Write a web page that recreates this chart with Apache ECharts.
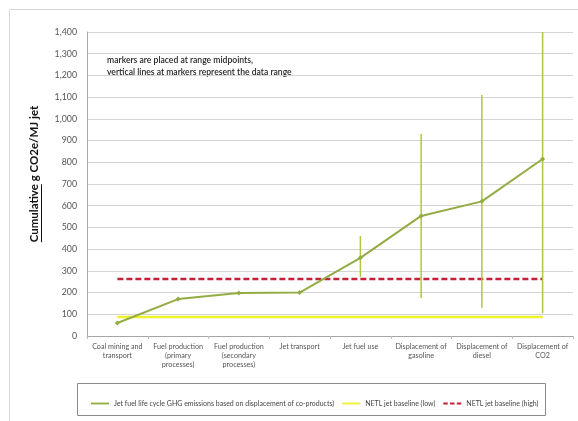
<!DOCTYPE html>
<html>
<head>
<meta charset="utf-8">
<script src="https://cdn.jsdelivr.net/npm/echarts@6/dist/echarts.min.js"></script>
<style>
  html, body { margin: 0; padding: 0; background: #fff; }
  #chart { width: 578px; height: 421px; }
</style>
</head>
<body>
<div id="chart"></div>
<script>
// Life-cycle stages along the x axis
const categories = [
  'Coal mining and\ntransport',
  'Fuel production\n(primary\nprocesses)',
  'Fuel production\n(secondary\nprocesses)',
  'Jet transport',
  'Jet fuel use',
  'Displacement of\ngasoline',
  'Displacement of\ndiesel',
  'Displacement of\nCO2'
];
// Cumulative emissions at range midpoints (g CO2e/MJ jet)
const midpoints = [60, 170, 198, 200, 360, 553, 620, 815];
// Data range for each stage [low, high]; null where no range is shown
const rangeLow  = [null, null, null, null, 272, 175, 130, 105];
const rangeHigh = [null, null, null, null, 460, 930, 1110, 1400];
// NETL jet baselines
const baselineLow  = [87, 87, 87, 87, 87, 87, 87, 87];
const baselineHigh = [263, 263, 263, 263, 263, 263, 263, 263];
// Y axis ticks
const yMin = 0, yMax = 1400, yStep = 100;

const seriesNames = [
  'Jet fuel life cycle GHG emissions based on displacement of co-products)',
  'NETL jet baseline (low)',
  'NETL jet baseline (high)'
];

const FONT = 'Lato, "Open Sans", sans-serif';
const green = '#93AC43';
const greenBar = '#AFC743';
const yellow = '#EEF22A';
const red = '#C4213B';

const chart = echarts.init(document.getElementById('chart'));

// width of a text string, used to size the underline under the axis title
function textWidth(str, font) {
  const c = document.createElement('canvas').getContext('2d');
  c.font = font;
  return c.measureText(str).width;
}
const titleFont = 'bold 11.5px ' + FONT;
const titleA = 'Cumulative';
const titleB = ' g CO2e/MJ jet';
const wA = textWidth(titleA, titleFont);
const wAll = textWidth(titleA + titleB, titleFont);

const rangeData = categories.map((c, i) => [i, rangeLow[i], rangeHigh[i]]).filter(d => d[1] != null);

// legend glyphs: solid bar and three dashes
const solidIcon = 'path://M0,0H20V2H0Z';
const dashIcon = 'path://M0,0H5V2H0Z M7.5,0H12.5V2H7.5Z M15,0H20V2H15Z';

chart.setOption({
  animation: false,
  grid: { left: 87, right: 5, top: 32, bottom: 85 },
  xAxis: {
    type: 'category',
    data: categories,
    boundaryGap: true,
    axisLine: { lineStyle: { color: '#a6a6a6' } },
    axisTick: { show: true, length: 3, lineStyle: { color: '#bdbdbd' } },
    axisLabel: {
      interval: 0, color: '#555', fontFamily: FONT, fontSize: 7.2, lineHeight: 9, margin: 6
    }
  },
  yAxis: {
    type: 'value',
    min: yMin, max: yMax, interval: yStep,
    axisLine: { show: true, lineStyle: { color: '#a6a6a6' } },
    axisTick: { show: false },
    splitLine: { lineStyle: { color: '#d4d4d4', width: 1 } },
    axisLabel: {
      color: '#555', fontFamily: FONT, fontSize: 8.8, margin: 10,
      formatter: v => v.toLocaleString('en-US')
    }
  },
  series: [
    {
      name: seriesNames[1],
      type: 'line',
      data: baselineLow,
      symbol: 'none',
      lineStyle: { color: yellow, width: 2.5 },
      itemStyle: { color: yellow },
      z: 2
    },
    {
      name: seriesNames[2],
      type: 'line',
      data: baselineHigh,
      symbol: 'none',
      lineStyle: { color: red, width: 2.5, type: [6, 3] },
      itemStyle: { color: red },
      z: 2
    },
    {
      name: 'range',
      type: 'custom',
      data: rangeData,
      z: 3,
      renderItem: (params, api) => {
        const p1 = api.coord([api.value(0), api.value(1)]);
        const p2 = api.coord([api.value(0), api.value(2)]);
        return {
          type: 'line',
          shape: { x1: p1[0], y1: p1[1], x2: p2[0], y2: p2[1] },
          style: { stroke: greenBar, lineWidth: 1.5 }
        };
      }
    },
    {
      name: seriesNames[0],
      type: 'line',
      data: midpoints,
      symbol: 'diamond',
      symbolSize: 5,
      lineStyle: { color: green, width: 2 },
      itemStyle: { color: green },
      z: 4
    }
  ],
  graphic: [
    // outer chart frame
    {
      type: 'rect', left: 7, top: 7, silent: true,
      shape: { width: 580, height: 430 },
      style: { fill: null, stroke: '#d6d6d6', lineWidth: 1 }
    },
    // note on the plot
    {
      type: 'text', left: 107, top: 54,
      style: {
        text: 'markers are placed at range midpoints,\nvertical lines at markers represent the data range',
        font: '600 8.6px ' + FONT, fill: '#262626', lineHeight: 12
      }
    },
    // rotated y-axis title with underlined first word
    {
      type: 'group',
      x: 40, y: 174, rotation: Math.PI / 2,
      children: [
        {
          type: 'text', x: -wAll / 2, y: 0,
          style: { text: titleA + titleB, font: titleFont, fill: '#111', verticalAlign: 'bottom' }
        },
        {
          type: 'rect',
          shape: { x: -wAll / 2, y: 1, width: wA, height: 1 },
          style: { fill: '#111' }
        }
      ]
    },
    // legend frame
    {
      type: 'rect', left: 77, top: 383, silent: true, z: -1,
      shape: { width: 468, height: 32 },
      style: { fill: '#fff', stroke: '#8c8c8c', lineWidth: 1 }
    }
  ],
  legend: {
    data: [
      { name: seriesNames[0], icon: solidIcon, itemStyle: { color: green } },
      { name: seriesNames[1], icon: solidIcon, itemStyle: { color: yellow } },
      { name: seriesNames[2], icon: dashIcon, itemStyle: { color: red } }
    ],
    left: 86, top: 395,
    itemWidth: 18, itemHeight: 2, itemGap: 8,
    textStyle: { fontFamily: FONT, fontSize: 7, color: '#444' }
  }
});
</script>
</body>
</html>
